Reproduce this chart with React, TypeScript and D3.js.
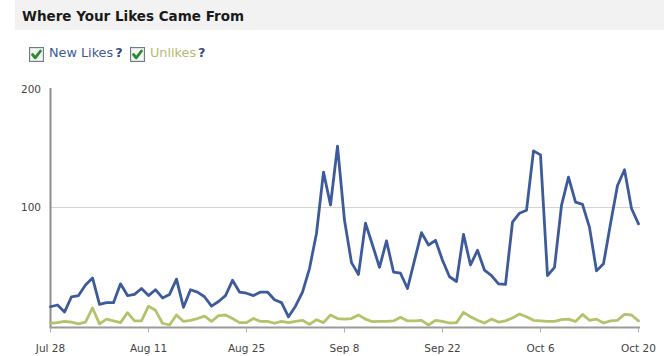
import React from "react";
import * as d3 from "d3";

const startDate = new Date(2011, 6, 28);
const tickLabels = ["Jul 28", "Aug 11", "Aug 25", "Sep 8", "Sep 22", "Oct 6", "Oct 20"];
const yTicks = [100, 200];

const newLikes = [
  15.5, 17, 11, 24, 25, 34, 40, 17.5, 19, 19,
  35, 25, 26, 31, 25, 30, 23, 26, 39, 15,
  30, 28, 24, 16, 20, 25, 38, 28, 27, 25,
  28, 28, 21.5, 19, 7, 16, 28, 48, 78, 130,
  102, 152, 89, 53, 43, 86.5, 68, 49, 71.5, 45,
  44, 31, 55, 78.5, 68, 72, 55, 41, 37, 77,
  51, 63.5, 46.6, 42, 35, 34.5, 87.5, 95, 97.5, 148,
  144.6, 42, 49, 101.7, 125.7, 104.5, 102.5, 83, 46, 52,
  86, 118.6, 132, 99, 86,
];

const unlikes = [
  1.5, 2, 3, 2.5, 1, 2.5, 14.5, 1, 5, 3.5,
  2, 10.5, 3.5, 3.5, 16, 12.5, 1.5, 0, 8.5, 3,
  4, 5.5, 7.5, 3, 8, 8.5, 5.5, 2, 2, 5.5,
  3, 3, 1.5, 3, 2, 3, 4, 0.5, 4.5, 2,
  8.5, 5.5, 5, 5.5, 8.5, 5, 2.8, 3, 3, 3.5,
  6.5, 3.5, 3.5, 4, 0, 4, 3, 1.7, 2, 10.7,
  7, 4, 1.7, 5, 2.5, 3.5, 6, 9.3, 7, 4,
  3.5, 3, 3, 4.5, 5, 3, 9, 4, 5, 1.7,
  3.5, 4, 9, 8.5, 3.5,
];

const W = 664;
const H = 356;

function Check({ x, y }: { x: number; y: number }) {
  return (
    <g transform={`translate(${x},${y})`}>
      <rect x={0.5} y={0.5} width={14} height={14} fill="#ffffff" stroke="#6d7b8d" strokeWidth={1} />
      <rect x={1.5} y={1.5} width={12} height={12} fill="#f3f6f3" stroke="#dfe5df" strokeWidth={1} />
      <path d="M3.5,7.5 L6.2,10.8 L11.5,4" fill="none" stroke="#2d8a2d" strokeWidth={2.8} strokeLinecap="round" strokeLinejoin="round" />
    </g>
  );
}

export default function App() {
  const dates = newLikes.map((_, i) => d3.timeDay.offset(startDate, i));
  const x = d3
    .scaleTime()
    .domain([startDate, d3.timeDay.offset(startDate, newLikes.length - 1)])
    .range([50.5, 638.5]);
  const y = d3.scaleLinear().domain([0, 200]).range([325, 89.7]);

  const line = d3
    .line<number>()
    .x((_, i) => x(dates[i]))
    .y((d) => y(d));

  const tickDates = tickLabels.map((_, i) => d3.timeDay.offset(startDate, i * 14));
  const axisY = 327.5;

  return (
    <div style={{ position: "absolute", left: 0, top: 0, width: W, height: H }}>
      <svg width={W} height={H} style={{ display: "block" }}>
        <rect x={0} y={0} width={W} height={H} fill="#ffffff" />
        <rect x={15} y={0} width={W - 15} height={30} fill="#f2f2f2" />
        <text x={22} y={20.5} fontFamily="DejaVu Sans" fontWeight="bold" fontSize={13.5} fill="#1a1a1a">
          Where Your Likes Came From
        </text>

        <Check x={29} y={47} />
        <text x={49} y={57} fontFamily="DejaVu Sans" fontSize={12.8} fill="#3b5998">
          New Likes
          <tspan fontWeight="bold" fill="#3b4a7a" dx={2}>?</tspan>
        </text>
        <Check x={130} y={47} />
        <text x={150} y={57} fontFamily="DejaVu Sans" fontSize={12.8} fill="#b9ba6e">
          Unlikes
          <tspan fontWeight="bold" fill="#3b4a7a" dx={2}>?</tspan>
        </text>

        {yTicks.map((t) => (
          <g key={t}>
            {t === 100 && (
              <line x1={50} x2={640} y1={Math.round(y(t)) + 0.5} y2={Math.round(y(t)) + 0.5} stroke="#d4d4d4" strokeWidth={1} />
            )}
            <text x={41} y={y(t)} dy="0.35em" textAnchor="end" fontFamily="DejaVu Sans" fontSize={10.5} fill="#444">
              {t}
            </text>
          </g>
        ))}

        <line x1={50.5} x2={50.5} y1={88} y2={axisY} stroke="#8c8c8c" strokeWidth={2} />
        <line x1={49.5} x2={640} y1={axisY} y2={axisY} stroke="#9a9a9a" strokeWidth={2} />

        {tickDates.map((d, i) => (
          <g key={i}>
            <line x1={x(d)} x2={x(d)} y1={axisY} y2={axisY + 5} stroke="#b0b0b0" strokeWidth={1} />
            <text x={x(d)} y={352} textAnchor="middle" fontFamily="DejaVu Sans" fontSize={10.5} fill="#444">
              {tickLabels[i]}
            </text>
          </g>
        ))}

        <path d={line(unlikes) || ""} fill="none" stroke="#b4c26c" strokeWidth={2.8} strokeLinejoin="round" strokeLinecap="round" />
        <path d={line(newLikes) || ""} fill="none" stroke="#3d5b9a" strokeWidth={2.8} strokeLinejoin="round" strokeLinecap="round" />
      </svg>
    </div>
  );
}
